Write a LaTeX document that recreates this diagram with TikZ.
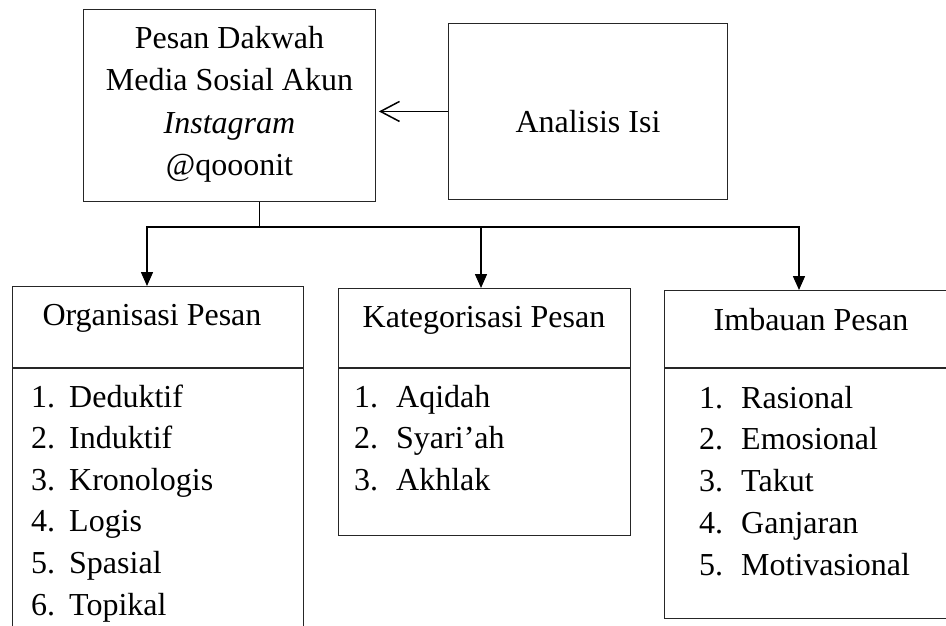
\documentclass[tikz,border=0pt]{standalone}
\usepackage{fontspec}
\setmainfont{Liberation Serif}
\usetikzlibrary{calc,arrows.meta}

\begin{document}
\begin{tikzpicture}[x=1pt,y=-1pt,
    box/.style={draw=black!85,line width=0.9pt,fill=white,anchor=north west,inner sep=0pt},
    txt/.style={font=\fontsize{32}{41}\selectfont,inner sep=0pt},
    wire/.style={line width=1.5pt},
    link/.style={wire,-{Triangle[length=14pt,width=12pt]}}]
    \useasboundingbox (0,0) rectangle (946,626);
    \clip (0,0) rectangle (946,626);

    % top boxes
    \node[box,minimum width=292,minimum height=192] (pesan) at (83,9) {};
    \node[box,minimum width=279,minimum height=176] (analisis) at (448,23) {};

    \foreach[count=\i] \t in {Pesan Dakwah,Media Sosial Akun,\textit{Instagram},@qooonit} {
        \node[txt,anchor=base] (pesan-\i) at ($ (pesan.north) + (0,40+42*\i-42) $) {\t};
    }
    \node[txt,anchor=base] (analisis-t) at ($ (analisis.north) + (0,109) $) {Analisis Isi};

    \draw[wire,-{Straight Barb[length=19pt,width=20pt]},shorten >=3pt] (analisis.west) -- (analisis.west -| pesan.east);

    % lower boxes
    \node[box,minimum width=291,minimum height=81] (org-head) at (12,286) {};
    \node[box,minimum width=291,minimum height=300] (org-list) at (12,368) {};
    \node[box,minimum width=292,minimum height=79] (kat-head) at (338,288) {};
    \node[box,minimum width=292,minimum height=167] (kat-list) at (338,368) {};
    \node[box,minimum width=300,minimum height=77] (imb-head) at (664,290) {};
    \node[box,minimum width=300,minimum height=250] (imb-list) at (664,368) {};

    \node[txt,anchor=base] (org-t) at (152,325) {Organisasi Pesan};
    \node[txt,anchor=base] (kat-t) at (484,327) {Kategorisasi Pesan};
    \node[txt,anchor=base] (imb-t) at (811,330) {Imbauan Pesan};

    \foreach[count=\i] \t in {Deduktif,Induktif,Kronologis,Logis,Spasial,Topikal} {
        \node[txt,anchor=base west] (org-n\i) at (31,407+41.6*\i-41.6) {\i.};
        \node[txt,anchor=base west] (org-i\i) at (69,407+41.6*\i-41.6) {\t};
    }
    \foreach[count=\i] \t in {Aqidah,Syari’ah,Akhlak} {
        \node[txt,anchor=base west] (kat-n\i) at (354,407+41.5*\i-41.5) {\i.};
        \node[txt,anchor=base west] (kat-i\i) at (396,407+41.5*\i-41.5) {\t};
    }
    \foreach[count=\i] \t in {Rasional,Emosional,Takut,Ganjaran,Motivasional} {
        \node[txt,anchor=base west] (imb-n\i) at (699,408+41.75*\i-41.75) {\i.};
        \node[txt,anchor=base west] (imb-i\i) at (741,408+41.75*\i-41.75) {\t};
    }

    % connectors
    \coordinate (stem) at ($ (pesan.south) + (30,0) $);
    \coordinate (j1) at (147,227);
    \coordinate (j2) at (481,227);
    \coordinate (j3) at (799,227);
    \draw[wire] (stem) -- (stem |- j1);
    \draw[wire,line cap=rect] (j1) -- (j3);
    \foreach \j/\b in {j1/org-head,j2/kat-head,j3/imb-head} {
        \draw[link] (\j) -- (\j |- \b.north);
    }
\end{tikzpicture}
\end{document}
